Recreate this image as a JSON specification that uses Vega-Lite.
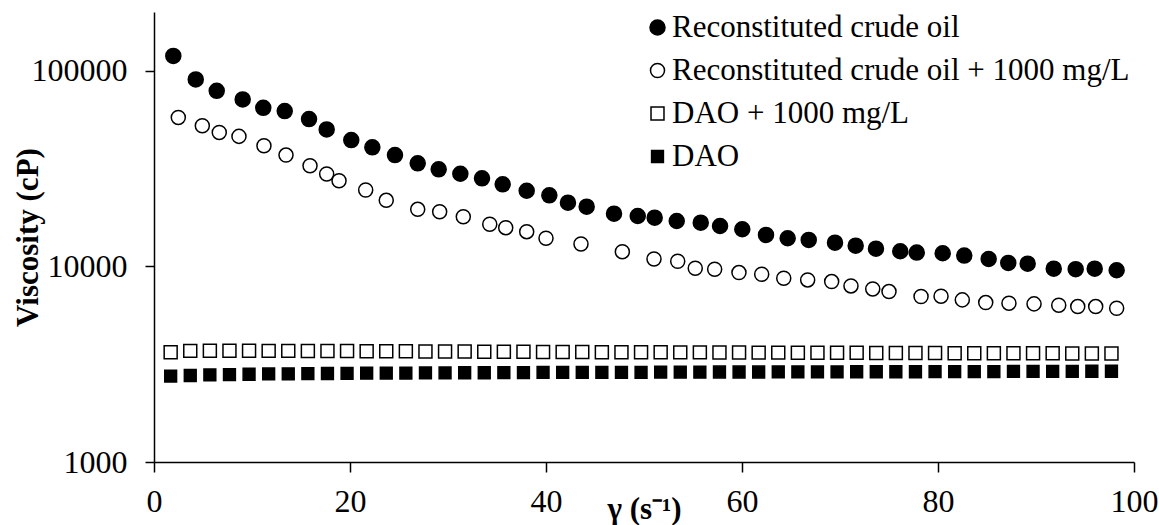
{
  "$schema": "https://vega.github.io/schema/vega-lite/v6.json",
  "width": 980,
  "height": 450,
  "autosize": {"type": "none"},
  "padding": {"left": 154, "top": 12, "right": 25, "bottom": 63},
  "background": "white",
  "config": {
    "font": "Liberation Serif",
    "view": {"stroke": null},
    "axis": {
      "domainColor": "black", "domainWidth": 1.5, "tickColor": "black", "tickWidth": 1.5,
      "labelFont": "Liberation Serif", "labelFontSize": 32, "labelColor": "black",
      "titleFont": "Liberation Serif", "titleFontSize": 31, "titleFontWeight": "bold", "titleColor": "black",
      "grid": false, "labelOverlap": false, "labelFlush": false
    }
  },
  "data": {"values": [
    {"s": "Reconstituted crude oil", "x": 1.97, "v": 119300},
    {"s": "Reconstituted crude oil", "x": 4.26, "v": 90400},
    {"s": "Reconstituted crude oil", "x": 6.40, "v": 79070},
    {"s": "Reconstituted crude oil", "x": 9.05, "v": 71440},
    {"s": "Reconstituted crude oil", "x": 11.15, "v": 64710},
    {"s": "Reconstituted crude oil", "x": 13.34, "v": 62260},
    {"s": "Reconstituted crude oil", "x": 15.82, "v": 56660},
    {"s": "Reconstituted crude oil", "x": 17.62, "v": 50200},
    {"s": "Reconstituted crude oil", "x": 20.13, "v": 44270},
    {"s": "Reconstituted crude oil", "x": 22.28, "v": 40630},
    {"s": "Reconstituted crude oil", "x": 24.59, "v": 37110},
    {"s": "Reconstituted crude oil", "x": 26.91, "v": 33660},
    {"s": "Reconstituted crude oil", "x": 29.05, "v": 31360},
    {"s": "Reconstituted crude oil", "x": 31.26, "v": 29790},
    {"s": "Reconstituted crude oil", "x": 33.47, "v": 28210},
    {"s": "Reconstituted crude oil", "x": 35.58, "v": 26290},
    {"s": "Reconstituted crude oil", "x": 38.03, "v": 24380},
    {"s": "Reconstituted crude oil", "x": 40.34, "v": 23100},
    {"s": "Reconstituted crude oil", "x": 42.24, "v": 21180},
    {"s": "Reconstituted crude oil", "x": 44.15, "v": 20210},
    {"s": "Reconstituted crude oil", "x": 46.94, "v": 18610},
    {"s": "Reconstituted crude oil", "x": 49.36, "v": 18110},
    {"s": "Reconstituted crude oil", "x": 51.09, "v": 17750},
    {"s": "Reconstituted crude oil", "x": 53.34, "v": 17080},
    {"s": "Reconstituted crude oil", "x": 55.79, "v": 16740},
    {"s": "Reconstituted crude oil", "x": 57.76, "v": 16100},
    {"s": "Reconstituted crude oil", "x": 60.03, "v": 15490},
    {"s": "Reconstituted crude oil", "x": 62.45, "v": 14490},
    {"s": "Reconstituted crude oil", "x": 64.66, "v": 13930},
    {"s": "Reconstituted crude oil", "x": 66.81, "v": 13660},
    {"s": "Reconstituted crude oil", "x": 69.49, "v": 13230},
    {"s": "Reconstituted crude oil", "x": 71.60, "v": 12770},
    {"s": "Reconstituted crude oil", "x": 73.67, "v": 12330},
    {"s": "Reconstituted crude oil", "x": 76.15, "v": 11960},
    {"s": "Reconstituted crude oil", "x": 77.83, "v": 11770},
    {"s": "Reconstituted crude oil", "x": 80.48, "v": 11680},
    {"s": "Reconstituted crude oil", "x": 82.68, "v": 11360},
    {"s": "Reconstituted crude oil", "x": 85.17, "v": 10920},
    {"s": "Reconstituted crude oil", "x": 87.17, "v": 10420},
    {"s": "Reconstituted crude oil", "x": 89.15, "v": 10330},
    {"s": "Reconstituted crude oil", "x": 91.81, "v": 9740},
    {"s": "Reconstituted crude oil", "x": 94.05, "v": 9680},
    {"s": "Reconstituted crude oil", "x": 95.99, "v": 9740},
    {"s": "Reconstituted crude oil", "x": 98.23, "v": 9560},
    {"s": "Reconstituted crude oil + 1000 mg/L", "x": 2.48, "v": 57810},
    {"s": "Reconstituted crude oil + 1000 mg/L", "x": 4.93, "v": 52380},
    {"s": "Reconstituted crude oil + 1000 mg/L", "x": 6.66, "v": 48460},
    {"s": "Reconstituted crude oil + 1000 mg/L", "x": 8.67, "v": 46240},
    {"s": "Reconstituted crude oil + 1000 mg/L", "x": 11.22, "v": 41400},
    {"s": "Reconstituted crude oil + 1000 mg/L", "x": 13.47, "v": 37110},
    {"s": "Reconstituted crude oil + 1000 mg/L", "x": 15.92, "v": 32720},
    {"s": "Reconstituted crude oil + 1000 mg/L", "x": 17.62, "v": 29680},
    {"s": "Reconstituted crude oil + 1000 mg/L", "x": 18.88, "v": 27430},
    {"s": "Reconstituted crude oil + 1000 mg/L", "x": 21.60, "v": 24590},
    {"s": "Reconstituted crude oil + 1000 mg/L", "x": 23.70, "v": 21780},
    {"s": "Reconstituted crude oil + 1000 mg/L", "x": 26.91, "v": 19590},
    {"s": "Reconstituted crude oil + 1000 mg/L", "x": 29.15, "v": 19050},
    {"s": "Reconstituted crude oil + 1000 mg/L", "x": 31.56, "v": 17960},
    {"s": "Reconstituted crude oil + 1000 mg/L", "x": 34.26, "v": 16430},
    {"s": "Reconstituted crude oil + 1000 mg/L", "x": 35.89, "v": 15790},
    {"s": "Reconstituted crude oil + 1000 mg/L", "x": 38.03, "v": 15060},
    {"s": "Reconstituted crude oil + 1000 mg/L", "x": 40.00, "v": 13930},
    {"s": "Reconstituted crude oil + 1000 mg/L", "x": 43.57, "v": 13030},
    {"s": "Reconstituted crude oil + 1000 mg/L", "x": 47.79, "v": 11900},
    {"s": "Reconstituted crude oil + 1000 mg/L", "x": 51.02, "v": 10920},
    {"s": "Reconstituted crude oil + 1000 mg/L", "x": 53.44, "v": 10630},
    {"s": "Reconstituted crude oil + 1000 mg/L", "x": 55.23, "v": 9790},
    {"s": "Reconstituted crude oil + 1000 mg/L", "x": 57.21, "v": 9680},
    {"s": "Reconstituted crude oil + 1000 mg/L", "x": 59.69, "v": 9300},
    {"s": "Reconstituted crude oil + 1000 mg/L", "x": 62.01, "v": 9120},
    {"s": "Reconstituted crude oil + 1000 mg/L", "x": 64.26, "v": 8705},
    {"s": "Reconstituted crude oil + 1000 mg/L", "x": 66.70, "v": 8535},
    {"s": "Reconstituted crude oil + 1000 mg/L", "x": 69.15, "v": 8365},
    {"s": "Reconstituted crude oil + 1000 mg/L", "x": 71.12, "v": 7950},
    {"s": "Reconstituted crude oil + 1000 mg/L", "x": 73.34, "v": 7675},
    {"s": "Reconstituted crude oil + 1000 mg/L", "x": 75.00, "v": 7435},
    {"s": "Reconstituted crude oil + 1000 mg/L", "x": 78.27, "v": 7015},
    {"s": "Reconstituted crude oil + 1000 mg/L", "x": 80.31, "v": 7045},
    {"s": "Reconstituted crude oil + 1000 mg/L", "x": 82.48, "v": 6745},
    {"s": "Reconstituted crude oil + 1000 mg/L", "x": 84.87, "v": 6535},
    {"s": "Reconstituted crude oil + 1000 mg/L", "x": 87.24, "v": 6490},
    {"s": "Reconstituted crude oil + 1000 mg/L", "x": 89.80, "v": 6435},
    {"s": "Reconstituted crude oil + 1000 mg/L", "x": 92.32, "v": 6337},
    {"s": "Reconstituted crude oil + 1000 mg/L", "x": 94.26, "v": 6235},
    {"s": "Reconstituted crude oil + 1000 mg/L", "x": 96.09, "v": 6235},
    {"s": "Reconstituted crude oil + 1000 mg/L", "x": 98.23, "v": 6115},
    {"s": "DAO + 1000 mg/L", "x": 1.7, "v": 3640},
    {"s": "DAO + 1000 mg/L", "x": 3.7, "v": 3700},
    {"s": "DAO + 1000 mg/L", "x": 5.7, "v": 3710},
    {"s": "DAO + 1000 mg/L", "x": 7.7, "v": 3710},
    {"s": "DAO + 1000 mg/L", "x": 9.7, "v": 3705},
    {"s": "DAO + 1000 mg/L", "x": 11.7, "v": 3700},
    {"s": "DAO + 1000 mg/L", "x": 13.7, "v": 3700},
    {"s": "DAO + 1000 mg/L", "x": 15.7, "v": 3695},
    {"s": "DAO + 1000 mg/L", "x": 17.7, "v": 3690},
    {"s": "DAO + 1000 mg/L", "x": 19.7, "v": 3690},
    {"s": "DAO + 1000 mg/L", "x": 21.7, "v": 3685},
    {"s": "DAO + 1000 mg/L", "x": 23.7, "v": 3680},
    {"s": "DAO + 1000 mg/L", "x": 25.7, "v": 3680},
    {"s": "DAO + 1000 mg/L", "x": 27.7, "v": 3675},
    {"s": "DAO + 1000 mg/L", "x": 29.7, "v": 3670},
    {"s": "DAO + 1000 mg/L", "x": 31.7, "v": 3670},
    {"s": "DAO + 1000 mg/L", "x": 33.7, "v": 3665},
    {"s": "DAO + 1000 mg/L", "x": 35.7, "v": 3660},
    {"s": "DAO + 1000 mg/L", "x": 37.7, "v": 3660},
    {"s": "DAO + 1000 mg/L", "x": 39.7, "v": 3655},
    {"s": "DAO + 1000 mg/L", "x": 41.7, "v": 3650},
    {"s": "DAO + 1000 mg/L", "x": 43.7, "v": 3650},
    {"s": "DAO + 1000 mg/L", "x": 45.7, "v": 3645},
    {"s": "DAO + 1000 mg/L", "x": 47.7, "v": 3645},
    {"s": "DAO + 1000 mg/L", "x": 49.7, "v": 3640},
    {"s": "DAO + 1000 mg/L", "x": 51.7, "v": 3640},
    {"s": "DAO + 1000 mg/L", "x": 53.7, "v": 3635},
    {"s": "DAO + 1000 mg/L", "x": 55.7, "v": 3635},
    {"s": "DAO + 1000 mg/L", "x": 57.7, "v": 3630},
    {"s": "DAO + 1000 mg/L", "x": 59.7, "v": 3630},
    {"s": "DAO + 1000 mg/L", "x": 61.7, "v": 3625},
    {"s": "DAO + 1000 mg/L", "x": 63.7, "v": 3625},
    {"s": "DAO + 1000 mg/L", "x": 65.7, "v": 3620},
    {"s": "DAO + 1000 mg/L", "x": 67.7, "v": 3620},
    {"s": "DAO + 1000 mg/L", "x": 69.7, "v": 3615},
    {"s": "DAO + 1000 mg/L", "x": 71.7, "v": 3615},
    {"s": "DAO + 1000 mg/L", "x": 73.7, "v": 3610},
    {"s": "DAO + 1000 mg/L", "x": 75.7, "v": 3610},
    {"s": "DAO + 1000 mg/L", "x": 77.7, "v": 3605},
    {"s": "DAO + 1000 mg/L", "x": 79.7, "v": 3605},
    {"s": "DAO + 1000 mg/L", "x": 81.7, "v": 3600},
    {"s": "DAO + 1000 mg/L", "x": 83.7, "v": 3600},
    {"s": "DAO + 1000 mg/L", "x": 85.7, "v": 3600},
    {"s": "DAO + 1000 mg/L", "x": 87.7, "v": 3595},
    {"s": "DAO + 1000 mg/L", "x": 89.7, "v": 3595},
    {"s": "DAO + 1000 mg/L", "x": 91.7, "v": 3595},
    {"s": "DAO + 1000 mg/L", "x": 93.7, "v": 3590},
    {"s": "DAO + 1000 mg/L", "x": 95.7, "v": 3590},
    {"s": "DAO + 1000 mg/L", "x": 97.7, "v": 3590},
    {"s": "DAO", "x": 1.7, "v": 2750},
    {"s": "DAO", "x": 3.7, "v": 2770},
    {"s": "DAO", "x": 5.7, "v": 2790},
    {"s": "DAO", "x": 7.7, "v": 2800},
    {"s": "DAO", "x": 9.7, "v": 2810},
    {"s": "DAO", "x": 11.7, "v": 2820},
    {"s": "DAO", "x": 13.7, "v": 2825},
    {"s": "DAO", "x": 15.7, "v": 2830},
    {"s": "DAO", "x": 17.7, "v": 2835},
    {"s": "DAO", "x": 19.7, "v": 2840},
    {"s": "DAO", "x": 21.7, "v": 2845},
    {"s": "DAO", "x": 23.7, "v": 2850},
    {"s": "DAO", "x": 25.7, "v": 2850},
    {"s": "DAO", "x": 27.7, "v": 2855},
    {"s": "DAO", "x": 29.7, "v": 2855},
    {"s": "DAO", "x": 31.7, "v": 2860},
    {"s": "DAO", "x": 33.7, "v": 2860},
    {"s": "DAO", "x": 35.7, "v": 2865},
    {"s": "DAO", "x": 37.7, "v": 2865},
    {"s": "DAO", "x": 39.7, "v": 2870},
    {"s": "DAO", "x": 41.7, "v": 2870},
    {"s": "DAO", "x": 43.7, "v": 2870},
    {"s": "DAO", "x": 45.7, "v": 2875},
    {"s": "DAO", "x": 47.7, "v": 2875},
    {"s": "DAO", "x": 49.7, "v": 2875},
    {"s": "DAO", "x": 51.7, "v": 2880},
    {"s": "DAO", "x": 53.7, "v": 2880},
    {"s": "DAO", "x": 55.7, "v": 2880},
    {"s": "DAO", "x": 57.7, "v": 2885},
    {"s": "DAO", "x": 59.7, "v": 2885},
    {"s": "DAO", "x": 61.7, "v": 2885},
    {"s": "DAO", "x": 63.7, "v": 2890},
    {"s": "DAO", "x": 65.7, "v": 2890},
    {"s": "DAO", "x": 67.7, "v": 2890},
    {"s": "DAO", "x": 69.7, "v": 2890},
    {"s": "DAO", "x": 71.7, "v": 2895},
    {"s": "DAO", "x": 73.7, "v": 2895},
    {"s": "DAO", "x": 75.7, "v": 2895},
    {"s": "DAO", "x": 77.7, "v": 2895},
    {"s": "DAO", "x": 79.7, "v": 2900},
    {"s": "DAO", "x": 81.7, "v": 2900},
    {"s": "DAO", "x": 83.7, "v": 2900},
    {"s": "DAO", "x": 85.7, "v": 2900},
    {"s": "DAO", "x": 87.7, "v": 2905},
    {"s": "DAO", "x": 89.7, "v": 2905},
    {"s": "DAO", "x": 91.7, "v": 2905},
    {"s": "DAO", "x": 93.7, "v": 2905},
    {"s": "DAO", "x": 95.7, "v": 2910},
    {"s": "DAO", "x": 97.7, "v": 2910}
  ]},
  "mark": {"type": "point", "filled": true, "stroke": "black", "strokeWidth": 1.5, "opacity": 1},
  "encoding": {
    "x": {
      "field": "x", "type": "quantitative",
      "scale": {"domain": [0, 100], "nice": false, "zero": false},
      "axis": {"values": [0, 20, 40, 60, 80, 100], "tickSize": 10, "labelPadding": 14, "labelFont": "Liberation Serif", "labelFontSize": 32, "title": "γ (s⁻¹)", "titleY": 56, "titleBaseline": "alphabetic"}
    },
    "y": {
      "field": "v", "type": "quantitative",
      "scale": {"type": "log", "domain": [1000, 200000], "nice": false},
      "axis": {"values": [1000, 10000, 100000], "format": "d", "tickSize": 9, "labelPadding": 18, "labelFont": "Liberation Serif", "labelFontSize": 32, "title": "Viscosity (cP)", "titleX": -117, "titleY": 225, "titleAngle": 270, "titleBaseline": "alphabetic", "titleAlign": "center"}
    },
    "shape": {
      "field": "s", "type": "nominal",
      "scale": {"domain": ["Reconstituted crude oil", "Reconstituted crude oil + 1000 mg/L", "DAO + 1000 mg/L", "DAO"], "range": ["circle", "circle", "square", "square"]},
      "legend": {"title": null, "orient": "none", "legendX": 488, "legendY": 0, "labelFont": "Liberation Serif", "labelFontSize": 31, "labelColor": "black", "labelLimit": 0, "labelOffset": -1, "rowPadding": 11, "padding": 0, "encode": {"symbols": {"update": {"stroke": {"value": "black"}, "strokeWidth": {"value": 1.5}}}}}
    },
    "fill": {
      "field": "s", "type": "nominal",
      "scale": {"domain": ["Reconstituted crude oil", "Reconstituted crude oil + 1000 mg/L", "DAO + 1000 mg/L", "DAO"], "range": ["black", "white", "white", "black"]},
      "legend": {"title": null, "orient": "none", "legendX": 488, "legendY": 0, "labelFont": "Liberation Serif", "labelFontSize": 31, "labelColor": "black", "labelLimit": 0, "labelOffset": -1, "rowPadding": 11, "padding": 0, "encode": {"symbols": {"update": {"stroke": {"value": "black"}, "strokeWidth": {"value": 1.5}}}}}
    },
    "size": {
      "field": "s", "type": "nominal",
      "scale": {"domain": ["Reconstituted crude oil", "Reconstituted crude oil + 1000 mg/L", "DAO + 1000 mg/L", "DAO"], "range": [225, 140, 156, 210]},
      "legend": {"title": null, "orient": "none", "legendX": 488, "legendY": 0, "labelFont": "Liberation Serif", "labelFontSize": 31, "labelColor": "black", "labelLimit": 0, "labelOffset": -1, "rowPadding": 11, "padding": 0, "encode": {"symbols": {"update": {"stroke": {"value": "black"}, "strokeWidth": {"value": 1.5}}}}}
    }
  }
}
